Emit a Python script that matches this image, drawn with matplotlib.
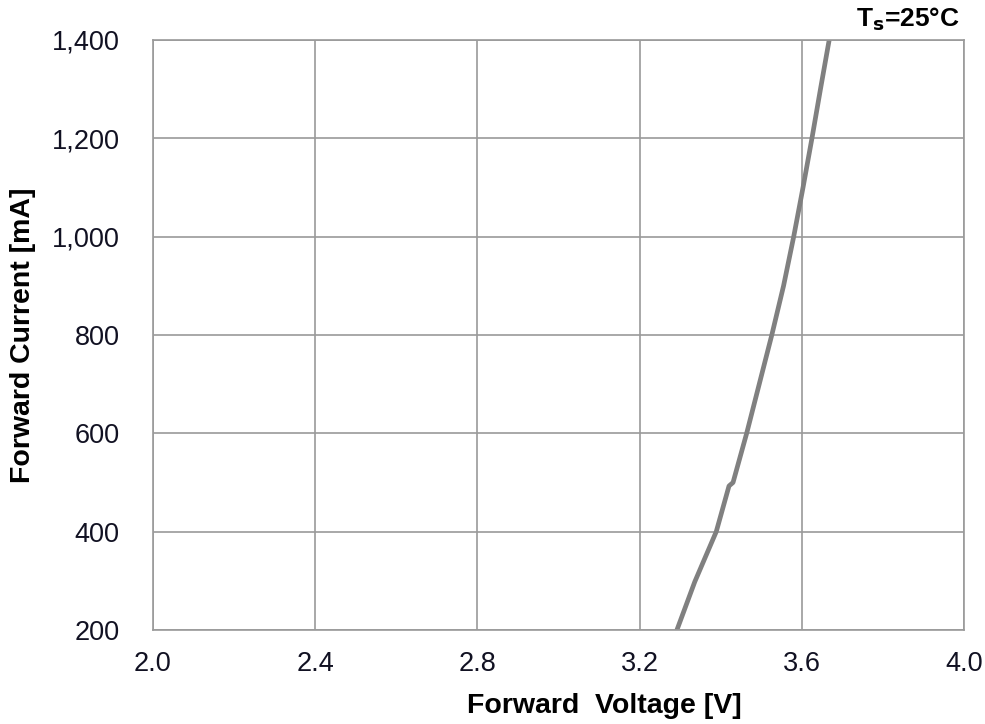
import matplotlib.pyplot as plt
from matplotlib.ticker import FuncFormatter

# forward voltage [V] vs forward current [mA]
voltage = [3.292, 3.336, 3.389, 3.4205, 3.4304, 3.464, 3.495, 3.526, 3.555, 3.580, 3.603, 3.625, 3.646, 3.6675]
current = [200, 298, 400, 493, 500, 600, 700, 800, 900, 1000, 1100, 1200, 1300, 1400]

x_ticks = [2.0, 2.4, 2.8, 3.2, 3.6, 4.0]
y_ticks = [200, 400, 600, 800, 1000, 1200, 1400]

plt.rcParams['font.family'] = ['Liberation Sans', 'DejaVu Sans']

fig = plt.figure(figsize=(9.85, 7.24), dpi=100)
ax = fig.add_axes([0.1553, 0.1298, 0.8234, 0.815])

grid_col = "#9a9a9a"
ax.plot(voltage, current, color="#808080", linewidth=3.4, solid_joinstyle="round")

ax.set_xlim(2.0, 4.0)
ax.set_ylim(200, 1400)
ax.set_xticks(x_ticks)
ax.set_yticks(y_ticks)
ax.xaxis.set_major_formatter(FuncFormatter(lambda v, p: f"{v:.1f}"))
ax.yaxis.set_major_formatter(FuncFormatter(lambda v, p: f"{int(v):,}"))
ax.grid(True, color=grid_col, linewidth=1.2)
ax.set_axisbelow(True)
for s in ax.spines.values():
    s.set_color(grid_col)
    s.set_linewidth(1.2)

ax.tick_params(axis="both", length=0, labelsize=19.5, labelcolor="#111122")
ax.tick_params(axis="x", pad=15)
ax.tick_params(axis="y", pad=24)

ax.set_xlabel("Forward  Voltage [V]", fontsize=20.5, fontweight="bold")
ax.xaxis.set_label_coords(0.557, -0.141)
ax.xaxis.label.set_va("baseline")
ax.set_ylabel("Forward Current [mA]", fontsize=20.5, fontweight="bold")
ax.yaxis.set_label_coords(-0.160, 0.5)
ax.yaxis.label.set_va("center")

ax.text(0.995, 1.022, r"T$_\mathbf{s}$=25°C", transform=ax.transAxes, ha="right", va="baseline",
        fontsize=19, fontweight="bold")

fig.savefig("out.png", dpi=100)
